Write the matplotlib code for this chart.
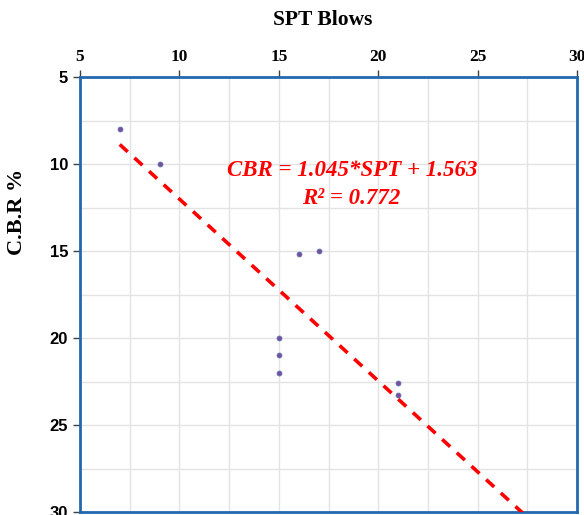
import matplotlib
matplotlib.use("Agg")
import matplotlib.pyplot as plt
import numpy as np

spt = [7, 9, 16, 17, 15, 15, 15, 21, 21]
cbr = [8, 10, 15.2, 15, 20, 21, 22, 22.6, 23.3]
slope = 1.045
intercept = 1.563
r2 = 0.772
xticks = [5, 10, 15, 20, 25, 30]
yticks = [5, 10, 15, 20, 25, 30]

fig = plt.figure(figsize=(5.84, 5.15), dpi=100)
ax = fig.add_axes([80/584, 1-512/515, (577-80)/584, (512-77)/515])

ax.set_xlim(5, 30)
ax.set_ylim(30, 5)
ax.xaxis.tick_top()
ax.xaxis.set_label_position('top')
ax.set_xticks(xticks)
ax.set_yticks(yticks)
ax.set_xticks(np.arange(7.5, 30, 5), minor=True)
ax.set_yticks(np.arange(7.5, 30, 5), minor=True)
ax.grid(True, which='both', color='#E3E3E3', linewidth=1)
ax.set_axisbelow(True)
ax.tick_params(which='minor', length=0)
ax.tick_params(which='major', length=5, width=1, color='#404040')

for lbl in ax.get_xticklabels():
    lbl.set_fontfamily('Liberation Serif')
    lbl.set_fontweight('bold')
    lbl.set_fontsize(12.5)
for lbl in ax.get_yticklabels():
    lbl.set_fontfamily('Liberation Sans')
    lbl.set_fontweight('bold')
    lbl.set_fontsize(12)

for s in ax.spines.values():
    s.set_color('#2468B0')
    s.set_linewidth(2)

xl = np.linspace(7, 30, 100)
ax.plot(xl, slope * xl + intercept, color='#FF0000', linestyle=(0, (3, 2.5)), linewidth=2.6, zorder=3)
ax.plot(spt, cbr, 'o', markersize=3.5, color='#7A4E9A', markeredgecolor='#5A6EB0', markeredgewidth=0.6, zorder=4)

fig.text(352/584, 1-171/515, f'CBR = {slope:.3f}*SPT + {intercept:.3f}', color='#FF0000',
         fontfamily='Liberation Serif', fontweight='bold', fontstyle='italic', fontsize=16.5,
         ha='center', va='center')
fig.text(351/584, 1-198/515, f'R² = {r2:.3f}', color='#FF0000',
         fontfamily='Liberation Serif', fontweight='bold', fontstyle='italic', fontsize=16.5,
         ha='center', va='center')

fig.text(323/584, 1-20/515, 'SPT Blows', fontfamily='Liberation Serif', fontweight='bold',
         fontsize=15.5, ha='center', va='center')
fig.text(17/584, 1-212/515, 'C.B.R %', fontfamily='Liberation Serif', fontweight='bold',
         fontsize=16, ha='center', va='center', rotation=90)

fig.savefig('out.png', dpi=100)
